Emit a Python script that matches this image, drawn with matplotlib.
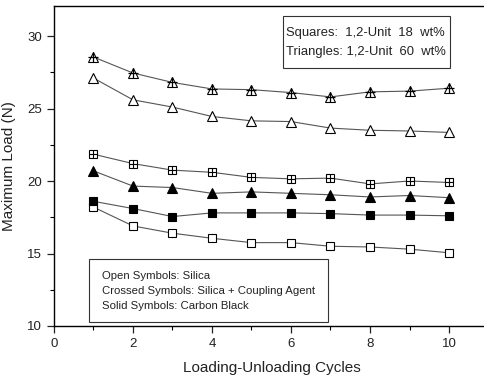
import matplotlib
matplotlib.use('Agg')
import matplotlib.pyplot as plt
from matplotlib.patches import Rectangle
from matplotlib.ticker import MultipleLocator

plt.rcParams['font.family'] = ['Liberation Sans', 'DejaVu Sans']

# Maximum load per loading-unloading cycle
cycles = [1, 2, 3, 4, 5, 6, 7, 8, 9, 10]
tri_crossed = [28.55, 27.45, 26.8, 26.35, 26.3, 26.1, 25.8, 26.15, 26.2, 26.4]
tri_open = [27.1, 25.6, 25.1, 24.45, 24.15, 24.1, 23.65, 23.5, 23.45, 23.35]
sq_crossed = [21.85, 21.2, 20.75, 20.6, 20.25, 20.15, 20.2, 19.8, 20.0, 19.9]
tri_solid = [20.7, 19.65, 19.55, 19.15, 19.25, 19.15, 19.05, 18.9, 19.0, 18.85]
sq_solid = [18.6, 18.1, 17.55, 17.8, 17.8, 17.8, 17.75, 17.65, 17.65, 17.6]
sq_open = [18.2, 16.9, 16.4, 16.05, 15.75, 15.75, 15.5, 15.45, 15.3, 15.05]

fig = plt.figure(figsize=(4.85, 3.76), dpi=100)
ax = fig.add_axes([0.1113, 0.133, 0.9, 0.851])

line_kw = dict(color='#555555', lw=0.8, zorder=1)
tri_ms = 6.8
sq_ms = 5.6

# open / solid / crossed series
ax.plot(cycles, tri_open, marker='^', ms=tri_ms, mfc='white', mec='black', mew=0.8, **line_kw)
ax.plot(cycles, tri_solid, marker='^', ms=tri_ms, mfc='black', mec='black', mew=0.8, **line_kw)
ax.plot(cycles, tri_crossed, marker='^', ms=tri_ms, mfc='white', mec='black', mew=0.8, **line_kw)
ax.plot(cycles, tri_crossed, ls='none', marker='+', ms=7.5, mec='black', mew=0.9, zorder=3)
ax.plot(cycles, sq_open, marker='s', ms=sq_ms, mfc='white', mec='black', mew=0.8, **line_kw)
ax.plot(cycles, sq_solid, marker='s', ms=sq_ms, mfc='black', mec='black', mew=0.8, **line_kw)
ax.plot(cycles, sq_crossed, marker='s', ms=sq_ms, mfc='white', mec='black', mew=0.8, **line_kw)
ax.plot(cycles, sq_crossed, ls='none', marker='+', ms=sq_ms, mec='black', mew=0.8, zorder=3)

ax.set_xlim(0, 11.05)
ax.set_ylim(10, 32.07)
ax.xaxis.set_major_locator(MultipleLocator(2))
ax.xaxis.set_minor_locator(MultipleLocator(1))
ax.yaxis.set_major_locator(MultipleLocator(5))
ax.yaxis.set_minor_locator(MultipleLocator(2.5))
ax.tick_params(which='major', direction='out', length=5, width=0.9, labelsize=9.5, colors='#222222')
ax.tick_params(which='minor', direction='out', length=3, width=0.8)
ax.spines['right'].set_visible(False)
for s in ['left', 'bottom', 'top']:
    ax.spines[s].set_linewidth(1.0)

ax.set_xlabel('Loading-Unloading Cycles', fontsize=11, color='#222222', labelpad=8)
ax.set_ylabel('Maximum Load (N)', fontsize=11, color='#222222', labelpad=8)

W, H = 485.0, 376.0


def box(x0, y0, x1, y1):
    fig.patches.append(Rectangle((x0 / W, 1 - y1 / H), (x1 - x0) / W, (y1 - y0) / H,
                                 transform=fig.transFigure, fill=True, fc='white',
                                 ec='#333333', lw=0.8, zorder=5))


# key boxes
box(283, 16, 450, 68)
fig.text(286 / W, 1 - 33 / H, 'Squares:  1,2-Unit  18  wt%', fontsize=9.4, va='center',
         color='#222222', zorder=6)
fig.text(286 / W, 1 - 52 / H, 'Triangles: 1,2-Unit  60  wt%', fontsize=9.4, va='center',
         color='#222222', zorder=6)

box(89, 259, 328, 322)
notes = ['Open Symbols: Silica', 'Crossed Symbols: Silica + Coupling Agent', 'Solid Symbols: Carbon Black']
for i, t in enumerate(notes):
    fig.text(102 / W, 1 - (276 + 15 * i) / H, t, fontsize=8.2, va='center', color='#222222', zorder=6)

fig.savefig('out.png', dpi=100)
